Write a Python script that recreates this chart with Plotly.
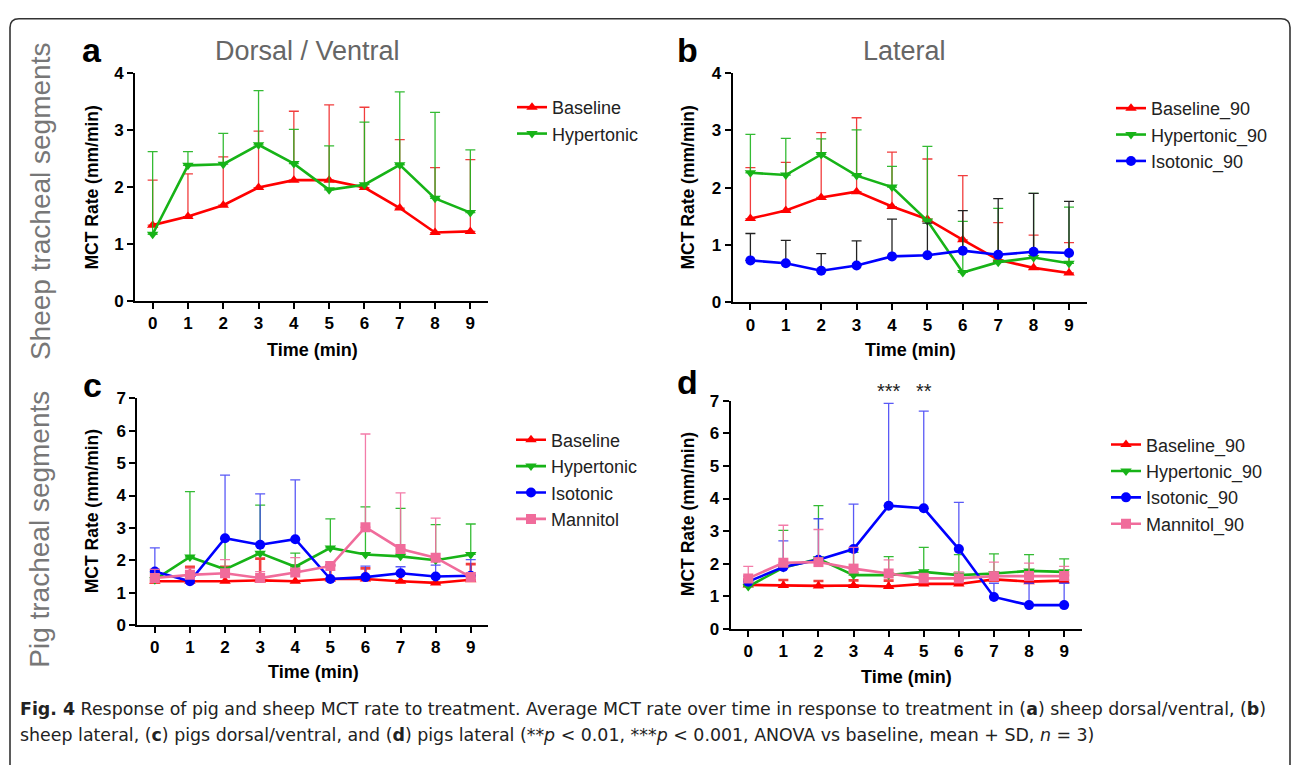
import plotly.graph_objects as go

W, H = 1293, 765

time_min = [0, 1, 2, 3, 4, 5, 6, 7, 8, 9]
x_ticks = ["0", "1", "2", "3", "4", "5", "6", "7", "8", "9"]

# Panel a: sheep dorsal/ventral (mean, mean+SD)
a_base = [1.33, 1.48, 1.68, 1.99, 2.12, 2.12, 1.99, 1.63, 1.20, 1.22]
a_base_up = [2.12, 2.23, 2.53, 2.98, 3.33, 3.44, 3.40, 2.83, 2.34, 2.48]
a_hyper = [1.17, 2.38, 2.40, 2.74, 2.41, 1.95, 2.04, 2.39, 1.80, 1.55]
a_hyper_up = [2.62, 2.62, 2.94, 3.69, 3.01, 2.72, 3.14, 3.67, 3.31, 2.65]

# Panel b: sheep lateral
b_base = [1.46, 1.60, 1.83, 1.93, 1.67, 1.45, 1.09, 0.74, 0.60, 0.51]
b_base_up = [2.35, 2.44, 2.96, 3.22, 2.62, 2.50, 2.21, 1.39, 1.17, 1.04]
b_hyper = [2.26, 2.22, 2.58, 2.21, 2.01, 1.42, 0.52, 0.70, 0.78, 0.68]
b_hyper_up = [2.93, 2.86, 2.85, 3.01, 2.37, 2.72, 1.41, 1.64, 1.90, 1.66]
b_iso = [0.73, 0.68, 0.55, 0.64, 0.80, 0.82, 0.90, 0.83, 0.88, 0.86]
b_iso_up = [1.20, 1.08, 0.85, 1.07, 1.45, 1.38, 1.60, 1.81, 1.90, 1.76]

# Panel c: pig dorsal/ventral
c_base = [1.35, 1.35, 1.35, 1.38, 1.35, 1.42, 1.42, 1.35, 1.30, 1.40]
c_base_up = [1.70, 1.80, 1.80, 2.05, 1.70, 1.85, 1.75, 1.60, 1.50, 1.88]
c_hyper = [1.40, 2.10, 1.72, 2.22, 1.80, 2.38, 2.18, 2.12, 2.00, 2.18]
c_hyper_up = [1.62, 4.12, 2.65, 3.70, 2.22, 3.28, 3.65, 3.60, 3.10, 3.12]
c_iso = [1.65, 1.35, 2.68, 2.48, 2.65, 1.42, 1.48, 1.60, 1.50, 1.52]
c_iso_up = [2.38, 1.62, 4.63, 4.05, 4.48, 1.85, 1.82, 1.80, 1.85, 2.02]
c_mann = [1.45, 1.55, 1.60, 1.45, 1.62, 1.82, 3.02, 2.35, 2.08, 1.48]
c_mann_up = [1.72, 1.75, 2.02, 1.65, 2.08, 1.95, 5.90, 4.08, 3.30, 1.62]

# Panel d: pig lateral
d_base = [1.35, 1.33, 1.32, 1.33, 1.30, 1.38, 1.38, 1.52, 1.45, 1.48]
d_base_up = [1.52, 1.50, 1.47, 1.49, 1.48, 1.53, 1.53, 1.70, 1.67, 1.66]
d_hyper = [1.30, 1.88, 2.15, 1.65, 1.65, 1.75, 1.65, 1.70, 1.78, 1.75]
d_hyper_up = [1.35, 3.02, 3.78, 2.35, 2.22, 2.50, 2.28, 2.30, 2.28, 2.15]
d_iso = [1.45, 1.90, 2.12, 2.45, 3.78, 3.70, 2.45, 0.98, 0.73, 0.73]
d_iso_up = [1.62, 2.70, 3.38, 3.83, 6.92, 6.68, 3.88, 1.40, 1.40, 1.40]
d_mann = [1.55, 2.03, 2.05, 1.85, 1.70, 1.55, 1.55, 1.62, 1.62, 1.62]
d_mann_up = [1.92, 3.18, 3.05, 2.50, 2.12, 1.70, 1.75, 2.05, 2.02, 1.92]

RED, GREEN, BLUE, PINK = "#FF0000", "#17B317", "#0000FF", "#F06C9B"
ERR = {RED: "rgba(240,40,40,0.9)", GREEN: "rgba(30,180,30,0.9)",
       BLUE: "rgba(60,60,245,0.85)", PINK: "rgba(242,110,160,0.9)"}
FONT = "Arial, Liberation Sans, sans-serif"

fig = go.Figure()


def add(name, y, up, color, symbol, ax, leg, errcolor=None, thick=1.3):
    err = dict(type="data", array=[u - v for u, v in zip(up, y)],
               arrayminus=[0] * len(y), symmetric=False,
               color=errcolor or ERR[color], thickness=thick, width=5)
    fig.add_trace(go.Scatter(
        x=time_min, y=y, name=name, mode="lines+markers",
        line=dict(color=color, width=2.6),
        marker=dict(color=color, symbol=symbol, size=10),
        error_y=err, xaxis="x" + ax, yaxis="y" + ax, legend=leg))


add("Baseline", a_base, a_base_up, RED, "triangle-up", "", "legend")
add("Hypertonic", a_hyper, a_hyper_up, GREEN, "triangle-down", "", "legend")

add("Baseline_90", b_base, b_base_up, RED, "triangle-up", "2", "legend2")
add("Hypertonic_90", b_hyper, b_hyper_up, GREEN, "triangle-down", "2", "legend2")
add("Isotonic_90", b_iso, b_iso_up, BLUE, "circle", "2", "legend2", errcolor="#222222")

add("Baseline", c_base, c_base_up, RED, "triangle-up", "3", "legend3", thick=2.6)
add("Hypertonic", c_hyper, c_hyper_up, GREEN, "triangle-down", "3", "legend3")
add("Isotonic", c_iso, c_iso_up, BLUE, "circle", "3", "legend3")
add("Mannitol", c_mann, c_mann_up, PINK, "square", "3", "legend3")

add("Baseline_90", d_base, d_base_up, RED, "triangle-up", "4", "legend4", thick=2.6)
add("Hypertonic_90", d_hyper, d_hyper_up, GREEN, "triangle-down", "4", "legend4")
add("Isotonic_90", d_iso, d_iso_up, BLUE, "circle", "4", "legend4")
add("Mannitol_90", d_mann, d_mann_up, PINK, "square", "4", "legend4")


def px(v):
    return v / W


def py(v):
    return 1 - v / H


TICKFONT = dict(family=FONT, size=17, color="black", weight="bold")


def xax(x0, x1, anchor):
    return dict(domain=[px(x0), px(x1)], range=[-0.5, 9.5], anchor=anchor,
                tickmode="array", tickvals=time_min, ticktext=x_ticks,
                showline=True, linecolor="black", linewidth=2, ticks="outside",
                ticklen=6, tickwidth=2, tickcolor="black", showgrid=False,
                zeroline=False, tickfont=TICKFONT)


def yax(y0, y1, top, anchor):
    return dict(domain=[py(y0), py(y1)], range=[0, top], anchor=anchor, dtick=1,
                showline=True, linecolor="black", linewidth=2, ticks="outside",
                ticklen=6, tickwidth=2, tickcolor="black", showgrid=False,
                zeroline=False, tickfont=TICKFONT)


def leg(xp, yp):
    return dict(x=px(xp), y=py(yp), xanchor="left", yanchor="top",
                font=dict(family=FONT, size=18, color="#222"),
                bgcolor="rgba(0,0,0,0)", borderwidth=0, tracegroupgap=0)


anns = []


def txt(text, x, y, size, color="black", bold=False, angle=0, xanchor="center", yanchor="middle", family=FONT):
    anns.append(dict(text=text, x=px(x), y=py(y), xref="paper", yref="paper",
                     showarrow=False, textangle=angle, xanchor=xanchor, yanchor=yanchor,
                     font=dict(family=family, size=size, color=color,
                               weight="bold" if bold else "normal")))


# panel letters & titles
txt("a", 92, 42, 34, bold=True)
txt("b", 687, 42, 34, bold=True)
txt("c", 92, 386, 34, bold=True)
txt("d", 687, 383, 34, bold=True)
txt("Dorsal / Ventral", 307, 43, 27, color="#666666")
txt("Lateral", 904, 43, 27, color="#666666")
txt("Sheep tracheal segments", 40, 197, 28, color="#777777", angle=-90)
txt("Pig tracheal segments", 40, 534, 28, color="#777777", angle=-90)
# axis titles
for (xc, yc) in [(92, 183), (688, 183), (92, 515), (688, 518)]:
    txt("MCT Rate (mm/min)", xc, yc, 17.5, bold=True, angle=-90)
for (xc, yc) in [(312, 350), (910, 350), (313, 680), (906, 685)]:
    txt("Time (min)", xc, yc, 18, bold=True)

# significance marks
for xv, s in [(4, "***"), (5, "**")]:
    anns.append(dict(text=s, x=xv, y=py(392), xref="x4", yref="paper", showarrow=False,
                     font=dict(family=FONT, size=20, color="#222")))

# caption
CAP = "DejaVu Sans, sans-serif"
txt("<b>Fig. 4</b> Response of pig and sheep MCT rate to treatment. Average MCT rate over time in response "
    "to treatment in (<b>a</b>) sheep dorsal/ventral, (<b>b</b>)", 18, 718, 17.4, color="#222",
    xanchor="left", family=CAP)
txt("sheep lateral, (<b>c</b>) pigs dorsal/ventral, and (<b>d</b>) pigs lateral (**<i>p</i> &lt; 0.01, "
    "***<i>p</i> &lt; 0.001, ANOVA vs baseline, mean + SD, <i>n</i> = 3)", 18, 745, 17.4, color="#222",
    xanchor="left", family=CAP)

# rounded frame
x0, x1, y0, y1, r = 10, 1290, 10, 780, 9
path = (f"M {px(x0)},{py(y1)} L {px(x0)},{py(y0 + r)} Q {px(x0)},{py(y0)} {px(x0 + r)},{py(y0)} "
        f"L {px(x1 - r)},{py(y0)} Q {px(x1)},{py(y0)} {px(x1)},{py(y0 + r)} L {px(x1)},{py(y1)}")

fig.update_layout(
    width=W, height=H, margin=dict(l=0, r=0, t=0, b=0),
    paper_bgcolor="white", plot_bgcolor="white",
    font=dict(family=FONT),
    xaxis=xax(135, 488, "y"), yaxis=yax(299.3, 65.7, 4, "x"),
    xaxis2=xax(732.7, 1086.7, "y2"), yaxis2=yax(300.7, 65.7, 4, "x2"),
    xaxis3=xax(137.3, 488.3, "y3"), yaxis3=yax(631.7, 399.3, 7, "x3"),
    xaxis4=xax(730.7, 1081.7, "y4"), yaxis4=yax(635.7, 401.7, 7, "x4"),
    legend=leg(512, 82), legend2=leg(1111, 83), legend3=leg(511, 423),
    legend4=leg(1106, 428),
    annotations=anns,
    shapes=[dict(type="path", path=path, xref="paper", yref="paper",
                 line=dict(color="#333333", width=1.6))],
    showlegend=True,
)

fig.write_html("out.html")
